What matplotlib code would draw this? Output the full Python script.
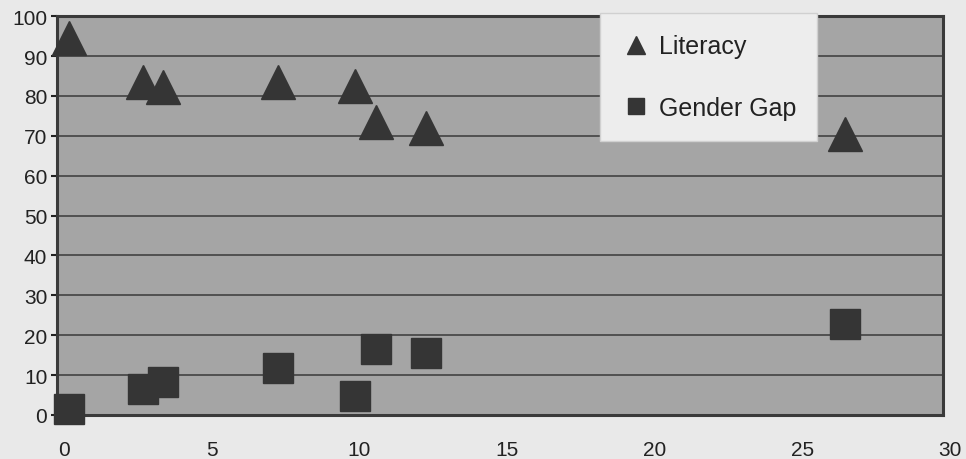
import matplotlib
matplotlib.use("Agg")
import matplotlib.pyplot as plt
import matplotlib.transforms as mtransforms

plt.rcParams["font.family"] = ["Liberation Sans", "DejaVu Sans"]

# values
x_vals = [0.4, 2.9, 3.6, 7.5, 10.1, 10.8, 12.5, 26.7]
literacy = [94.5, 83.5, 82.2, 83.5, 82.5, 73.4, 71.9, 70.4]
gender_gap = [1.5, 6.5, 8.3, 11.8, 4.8, 16.5, 15.5, 22.8]
x_ticks = [0, 5, 10, 15, 20, 25, 30]
y_ticks = [0, 10, 20, 30, 40, 50, 60, 70, 80, 90, 100]

PAGE = "#e9e9e9"
PLOT_BG = "#a5a5a5"
INK = "#353535"

fig = plt.figure(figsize=(9.66, 4.6), dpi=100, facecolor=PAGE)
ax = fig.add_axes([0.059, 0.0957, 0.917, 0.867])
ax.set_facecolor(PLOT_BG)

ax.plot(x_vals, literacy, linestyle="none", marker="^", markersize=24,
        color=INK, label="Literacy", zorder=3, clip_on=False)
ax.plot(x_vals, gender_gap, linestyle="none", marker="s", markersize=22,
        color=INK, label="Gender Gap", zorder=3, clip_on=False)

ax.set_xlim(0, 30)
ax.set_ylim(0, 100)
ax.set_xticks(x_ticks)
ax.set_yticks(y_ticks)
ax.tick_params(axis="x", length=0, pad=18, labelsize=15, colors="#222222")
ax.tick_params(axis="y", length=4, width=1.5, pad=3, labelsize=15, colors="#222222")
# the scanned x labels sit a little right of their ticks
shift = mtransforms.ScaledTranslation(0.07, 0, fig.dpi_scale_trans)
for lbl in ax.get_xticklabels():
    lbl.set_transform(lbl.get_transform() + shift)
ax.yaxis.grid(True, color="#4a4a4a", linewidth=1.3)
ax.set_axisbelow(True)
for side in ["left", "bottom", "top", "right"]:
    ax.spines[side].set_color("#3a3a3a")
    ax.spines[side].set_linewidth(2.2)

leg = ax.legend(loc="upper left", bbox_to_anchor=(600 / 966, 1 - 14 / 460),
                bbox_transform=fig.transFigure, frameon=True, fontsize=18,
                markerscale=0.55, handlelength=1.2, handletextpad=0.3,
                labelspacing=1.5, borderpad=0.85, borderaxespad=0,
                fancybox=False)
leg.get_frame().set_facecolor("#ededed")
leg.get_frame().set_edgecolor("#d0d0d0")
leg.get_frame().set_alpha(1)
leg.set_zorder(5)
for t in leg.get_texts():
    t.set_color("#222222")

fig.savefig("out.png", dpi=100, facecolor=PAGE)
